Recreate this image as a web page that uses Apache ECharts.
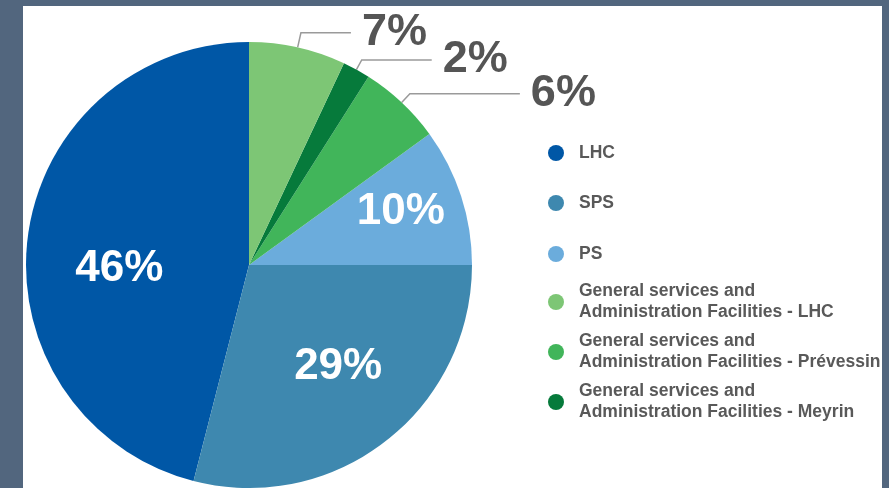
<!DOCTYPE html>
<html>
<head>
<meta charset="utf-8">
<script src="https://cdn.jsdelivr.net/npm/echarts@6/dist/echarts.min.js"></script>
<style>
  html, body { margin: 0; padding: 0; background: #52667e; }
  #chart { width: 889px; height: 488px; }
</style>
</head>
<body>
<div id="chart"></div>
<script>
// slices in drawing order (counter-clockwise from 12 o'clock)
const sliceNames = ['LHC', 'SPS', 'PS',
  'General services and Administration Facilities - Prévessin',
  'General services and Administration Facilities - Meyrin',
  'General services and Administration Facilities - LHC'];
const sliceValues = [46, 29, 10, 6, 2, 7];
const sliceColors = ['#0057a6', '#3e88af', '#6bacdc', '#41b55a', '#067a3b', '#7dc675'];

// legend order as shown on the right
const legendNames = ['LHC', 'SPS', 'PS',
  'General services and Administration Facilities - LHC',
  'General services and Administration Facilities - Prévessin',
  'General services and Administration Facilities - Meyrin'];
const legendCenters = [153, 203, 254, 302, 352, 402];

const FONT = '"Liberation Sans", Arial, Helvetica, sans-serif';

// label tweaks (inside labels are nudged, outside ones get their own leader lengths)
const insideShift = { 0: [-16, 18], 1: [19, 11], 2: [43, -18] };
const leader = { 3: [12, 110], 4: [11, 70], 5: [15, 50] };

let myChart = echarts.init(document.getElementById('chart'));

let pieData = [];
for (let i = 0; i < sliceNames.length; i++) {
  let item = { name: sliceNames[i], value: sliceValues[i], itemStyle: { color: sliceColors[i] } };
  if (insideShift[i]) {
    item.label = { position: 'inside', color: '#ffffff' };
  } else {
    item.label = { position: 'outside', color: '#555555', distanceToLabelLine: 11, fontSize: 45 };
    item.labelLine = { show: true, length: leader[i][0], length2: leader[i][1],
      lineStyle: { color: '#9a9a9a', width: 1.5 } };
  }
  pieData.push(item);
}

let legends = [];
for (let j = 0; j < legendNames.length; j++) {
  let twoLines = legendNames[j].indexOf(' and ') >= 0;
  let h = twoLines ? 42 : 21;
  legends.push({
    data: [legendNames[j]],
    orient: 'vertical',
    left: 548,
    top: legendCenters[j] - h / 2,
    padding: 0,
    icon: 'circle',
    itemWidth: 16,
    itemHeight: 16,
    selectedMode: false,
    formatter: function (name) { return name.replace(' and ', ' and\n'); },
    textStyle: {
      fontFamily: FONT, fontWeight: 'bold', fontSize: 17.5, lineHeight: 21,
      color: '#595959', padding: [0, 0, 0, 10]
    }
  });
}

option = {
  backgroundColor: '#52667e',
  animation: false,
  graphic: [{
    type: 'rect', z: -10, silent: true,
    shape: { x: 23, y: 6, width: 859, height: 490 },
    style: { fill: '#ffffff' }
  }],
  legend: legends,
  series: [{
    type: 'pie',
    center: [249, 265],
    radius: [0, 223],
    startAngle: 90,
    clockwise: false,
    avoidLabelOverlap: false,
    emphasis: { disabled: true },
    label: {
      formatter: '{c}%',
      fontFamily: FONT,
      fontWeight: 'bold',
      fontSize: 44
    },
    labelLine: { smooth: false },
    labelLayout: function (params) {
      let s = insideShift[params.dataIndex];
      if (s) {
        return { dx: s[0], dy: s[1] };
      }
      return {};
    },
    data: pieData
  }]
};

if (option && typeof option === 'object') {
  myChart.setOption(option, true);
}
</script>
</body>
</html>
